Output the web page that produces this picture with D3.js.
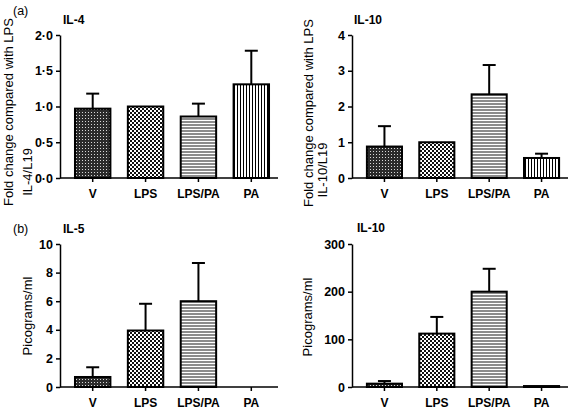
<!DOCTYPE html>
<html><head><meta charset="utf-8">
<script src="https://cdn.jsdelivr.net/npm/d3@7"></script>
<style>
body{margin:0;background:#fff;}
text{font-family:"Liberation Sans",Arial,Helvetica,sans-serif;fill:#000;}
</style></head>
<body><svg id="c" width="570" height="409"></svg>
<script>
// ---- data ----
const categories = ["V", "LPS", "LPS/PA", "PA"];
const il4Fold    = [0.97, 1.00, 0.86, 1.31];
const il4FoldErr = [0.21, 0, 0.18, 0.47];
const il10Fold    = [0.88, 1.00, 2.34, 0.56];
const il10FoldErr = [0.57, 0, 0.82, 0.12];
const il5Pg    = [0.70, 3.95, 6.00, 0];
const il5PgErr = [0.68, 1.87, 2.67, 0];
const il10Pg    = [7, 112, 200, 2];
const il10PgErr = [5.5, 35, 48, 0];
const ticksFoldIL4 = [0, 0.5, 1, 1.5, 2];
const tickLabelsFoldIL4 = ["0·0", "0·5", "1·0", "1·5", "2·0"];
const ticksFoldIL10 = [0, 1, 2, 3, 4];
const ticksIL5 = [0, 2, 4, 6, 8, 10];
const ticksIL10Pg = [0, 100, 200, 300];
const patterns = ["pV", "pLPS", "pLPSPA", "pPA"];

const svg = d3.select("#c");
const defs = svg.append("defs");
// V: dark fine dots
let p = defs.append("pattern").attr("id","pV").attr("patternUnits","userSpaceOnUse").attr("width",3).attr("height",3);
p.append("rect").attr("width",3).attr("height",3).attr("fill","#2b2b2b");
p.append("rect").attr("x",1).attr("y",1).attr("width",1).attr("height",1).attr("fill","#d8d8d8");
// LPS: checker
p = defs.append("pattern").attr("id","pLPS").attr("patternUnits","userSpaceOnUse").attr("width",4).attr("height",4);
p.append("rect").attr("width",4).attr("height",4).attr("fill","#111");
p.append("rect").attr("x",0).attr("y",0).attr("width",2).attr("height",2).attr("fill","#fff");
p.append("rect").attr("x",2).attr("y",2).attr("width",2).attr("height",2).attr("fill","#fff");
// LPS/PA: horizontal stripes
p = defs.append("pattern").attr("id","pLPSPA").attr("patternUnits","userSpaceOnUse").attr("width",3).attr("height",3);
p.append("rect").attr("width",3).attr("height",3).attr("fill","#8c8c8c");
p.append("rect").attr("y",0).attr("width",3).attr("height",1).attr("fill","#fff");
// PA: vertical stripes
p = defs.append("pattern").attr("id","pPA").attr("patternUnits","userSpaceOnUse").attr("width",3).attr("height",3);
p.append("rect").attr("width",3).attr("height",3).attr("fill","#fff");
p.append("rect").attr("x",0).attr("width",1).attr("height",3).attr("fill","#000");

const panels = [
  {x0:60, x1:278, yTop:35, yBot:178, max:2, ticks:ticksFoldIL4, tickLabels:tickLabelsFoldIL4,
   vals:il4Fold, errs:il4FoldErr, title:"IL-4", tx:63, ty:24,
   ylab:[{t:"Fold change compared with LPS", x:13, y:112},{t:"IL-4/L19", x:32, y:172}], tag:{t:"(a)", x:13, y:15}},
  {x0:352, x1:568, yTop:35, yBot:178, max:4, ticks:ticksFoldIL10, tickLabels:null,
   vals:il10Fold, errs:il10FoldErr, title:"IL-10", tx:354, ty:24,
   ylab:[{t:"Fold change compared with LPS", x:313, y:113},{t:"IL-10/L19", x:327, y:170}]},
  {x0:60, x1:278, yTop:244, yBot:387, max:10, ticks:ticksIL5, tickLabels:null,
   vals:il5Pg, errs:il5PgErr, title:"IL-5", tx:63, ty:233,
   ylab:[{t:"Picograms/ml", x:32, y:316}], tag:{t:"(b)", x:13, y:233}},
  {x0:352, x1:568, yTop:244, yBot:387, max:300, ticks:ticksIL10Pg, tickLabels:null,
   vals:il10Pg, errs:il10PgErr, title:"IL-10", tx:357, ty:232,
   ylab:[{t:"Picograms/ml", x:312, y:317}]}
];

panels.forEach(P => {
  const g = svg.append("g");
  const x = d3.scaleBand().domain(categories).range([P.x0+6, P.x1]).paddingInner(0.33).paddingOuter(0.17);
  const y = d3.scaleLinear().domain([0, P.max]).range([P.yBot, P.yTop]);
  const data = categories.map((c,i)=>({c, v:P.vals[i], e:P.errs[i], pat:patterns[i]}));

  // bars
  g.selectAll("rect.bar").data(data.filter(d=>d.v>0)).join("rect")
    .attr("x", d=>x(d.c)).attr("width", x.bandwidth())
    .attr("y", d=>y(d.v)).attr("height", d=>y(0)-y(d.v))
    .attr("fill", d=>`url(#${d.pat})`).attr("stroke","#000").attr("stroke-width",2);
  // error bars
  const eb = data.filter(d=>d.e>0);
  g.selectAll("line.err").data(eb).join("line")
    .attr("x1", d=>x(d.c)+x.bandwidth()/2).attr("x2", d=>x(d.c)+x.bandwidth()/2)
    .attr("y1", d=>y(d.v)).attr("y2", d=>y(d.v+d.e))
    .attr("stroke","#000").attr("stroke-width",2);
  g.selectAll("line.cap").data(eb).join("line")
    .attr("x1", d=>x(d.c)+x.bandwidth()/2-6.5).attr("x2", d=>x(d.c)+x.bandwidth()/2+6.5)
    .attr("y1", d=>y(d.v+d.e)).attr("y2", d=>y(d.v+d.e))
    .attr("stroke","#000").attr("stroke-width",2);

  // y axis
  const ya = d3.axisLeft(y).tickValues(P.ticks).tickSize(4).tickPadding(3).tickSizeOuter(0);
  if (P.tickLabels) ya.tickFormat((d,i)=>P.tickLabels[i]); else ya.tickFormat(d3.format("d"));
  const yg = g.append("g").attr("transform",`translate(${P.x0},0)`).call(ya);
  yg.selectAll("text").attr("font-size",12.5).attr("font-weight","bold").style("font-family","'Liberation Sans',Arial,sans-serif");
  yg.selectAll("line,path").attr("stroke","#000").attr("stroke-width",1.5);

  // x axis
  const xa = d3.axisBottom(x).tickSize(4).tickPadding(7).tickSizeOuter(0);
  const xg = g.append("g").attr("transform",`translate(0,${P.yBot})`).call(xa);
  xg.select(".domain").remove();
  xg.append("line").attr("x1",P.x0).attr("x2",P.x1).attr("stroke","#000").attr("stroke-width",1.5);
  xg.selectAll(".tick line").attr("stroke","#000").attr("stroke-width",1.5);
  xg.selectAll("text").attr("font-size",12).attr("font-weight","bold").style("font-family","'Liberation Sans',Arial,sans-serif");

  // titles
  g.append("text").attr("x",P.tx).attr("y",P.ty).attr("font-size",12).attr("font-weight","bold").text(P.title);
  P.ylab.forEach(L=>{
    g.append("text").attr("transform",`translate(${L.x},${L.y}) rotate(-90)`).attr("text-anchor","middle")
      .attr("font-size",13).text(L.t);
  });
  if (P.tag) g.append("text").attr("x",P.tag.x).attr("y",P.tag.y).attr("font-size",12.5).text(P.tag.t);
});
</script></body></html>
